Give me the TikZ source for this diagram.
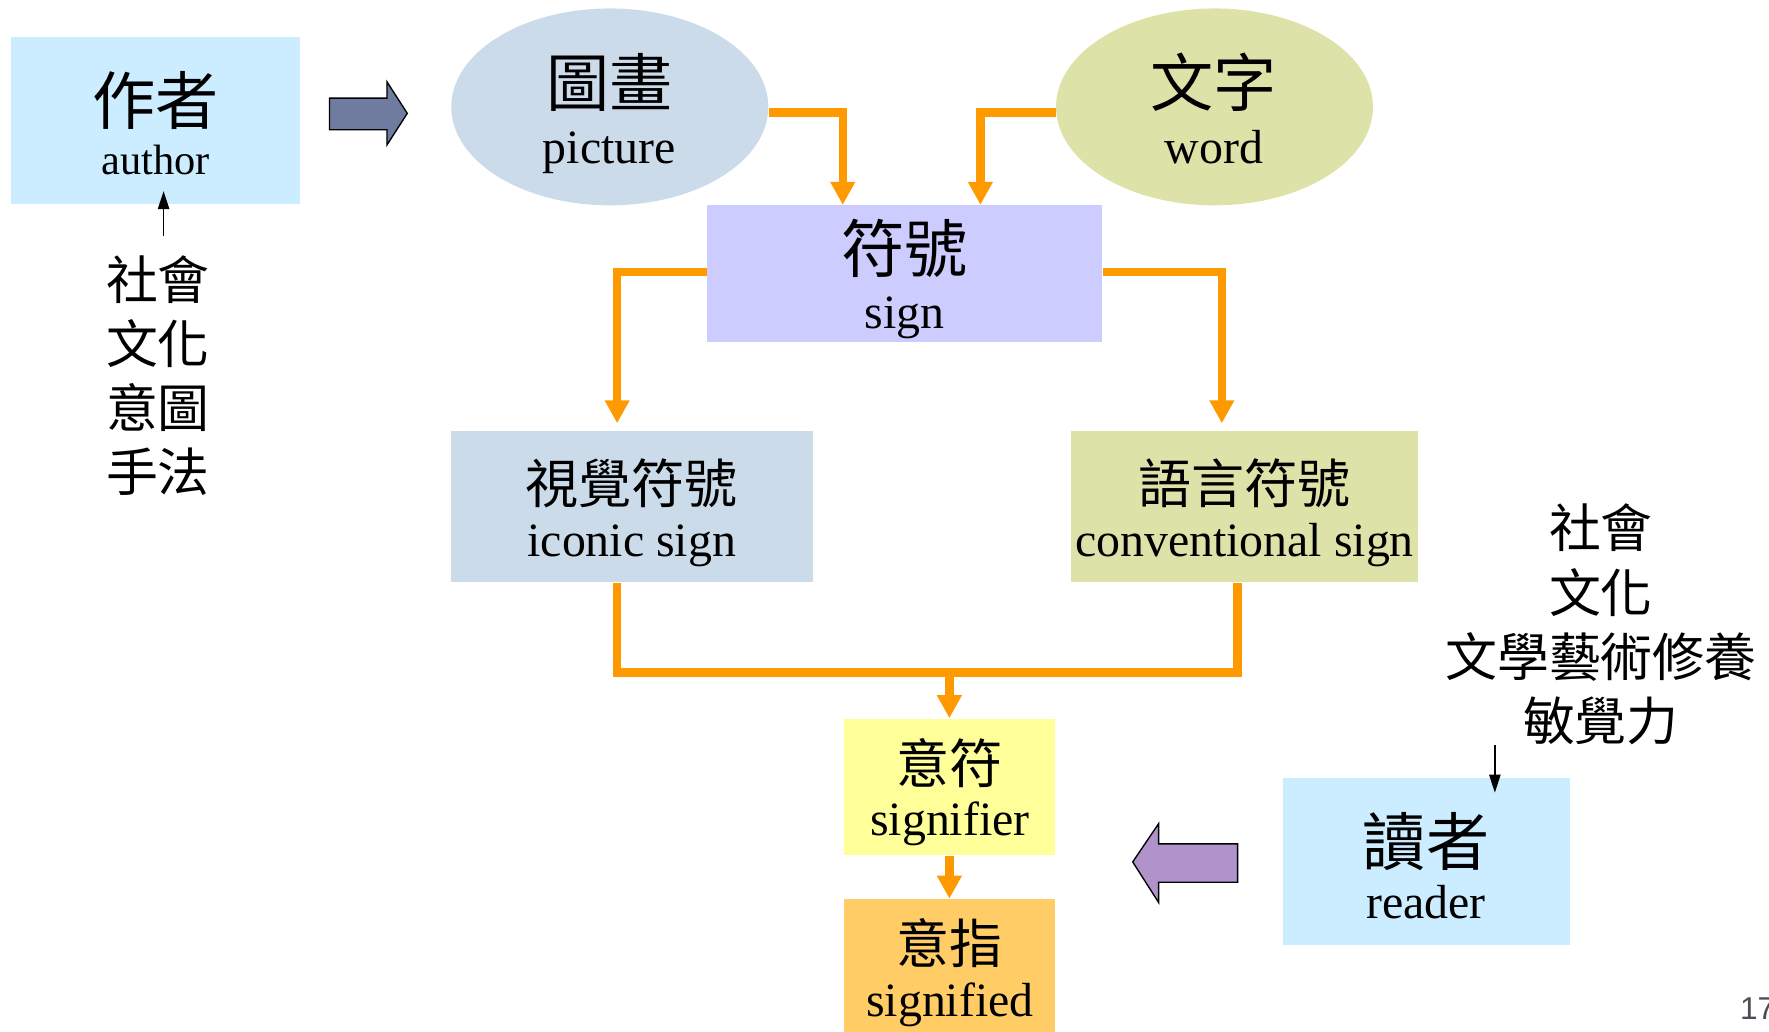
\documentclass[tikz,border=0pt]{standalone}
\usepackage{fontspec}
\setmainfont{Liberation Serif}
\newfontfamily\cjk{Noto Sans CJK TC}
\newfontfamily\numfont{Liberation Sans}
\usetikzlibrary{arrows.meta,shapes.geometric}
\definecolor{authc}{HTML}{CCECFF}
\definecolor{picc}{HTML}{CCDBEA}
\definecolor{wordc}{HTML}{DDE3A8}
\definecolor{signc}{HTML}{CCCCFF}
\definecolor{sfrc}{HTML}{FFFF99}
\definecolor{sfdc}{HTML}{FFCC66}
\definecolor{orc}{HTML}{FF9900}
\definecolor{rarc}{HTML}{707BA0}
\definecolor{larc}{HTML}{B093CB}
\definecolor{pgc}{HTML}{4D4D55}
\tikzset{
  box/.style={rectangle, inner sep=0pt, draw=none},
  oval/.style={ellipse, inner sep=0pt, draw=none},
  bigcjk/.style={font=\cjk\fontsize{28}{30}\selectfont, inner sep=0pt},
  midcjk/.style={font=\cjk\fontsize{23.5}{26}\selectfont, inner sep=0pt},
  eng/.style={font=\fontsize{21.2}{24}\selectfont, inner sep=0pt, anchor=base},
  smalleng/.style={font=\fontsize{18.8}{22}\selectfont, inner sep=0pt, anchor=base},
  lab/.style={font=\cjk\fontsize{23}{28.5}\selectfont, align=center, inner sep=0pt},
  oline/.style={draw=orc, line width=3.7pt, -{Triangle[width=10.4pt,length=10.2pt]}},
  ojoin/.style={draw=orc, line width=3.7pt},
  karrow/.style={line width=0.75pt, -{Triangle[width=5pt,length=8pt]}},
  blockarrow/.style={draw=black, line width=0.6pt, line join=miter}
}
\begin{document}
\begin{tikzpicture}[x=0.5pt,y=-0.5pt]
\useasboundingbox (0,0) rectangle (1568,914);
% boxes
\node[box, fill=authc, minimum width=128pt, minimum height=74pt] (author) at (138,107) {};
\node[oval, fill=picc, minimum width=140.5pt, minimum height=87.25pt] (picture) at (540.5,94.75) {};
\node[oval, fill=wordc, minimum width=140.5pt, minimum height=87.25pt] (word) at (1076.5,94.75) {};
\node[box, fill=signc, minimum width=175pt, minimum height=60.5pt] (sign) at (802,242.5) {};
\node[box, fill=picc, minimum width=160.5pt, minimum height=67pt] (iconic) at (560.5,449) {};
\node[box, fill=wordc, minimum width=154pt, minimum height=67pt] (conv) at (1103,449) {};
\node[box, fill=sfrc, minimum width=93.5pt, minimum height=60.5pt] (signifier) at (841.5,697.5) {};
\node[box, fill=sfdc, minimum width=93.5pt, minimum height=61.5pt] (signified) at (841.5,858.5) {};
\node[box, fill=authc, minimum width=127.5pt, minimum height=74pt] (reader) at (1264.5,764) {};
% texts
\node[bigcjk] (authorzh) at (138,89) {作者};
\node[smalleng] (authoren) at (138,155) {author};
\node[bigcjk] (picturezh) at (540,73) {圖畫};
\node[eng] (pictureen) at (540,145) {picture};
\node[bigcjk] (wordzh) at (1076,73) {文字};
\node[eng] (worden) at (1076,145) {word};
\node[bigcjk] (signzh) at (802,220) {符號};
\node[eng] (signen) at (802,291.5) {sign};
\node[midcjk] (iconiczh) at (560,428) {視覺符號};
\node[eng] (iconicen) at (560,493) {iconic sign};
\node[midcjk] (convzh) at (1103,428) {語言符號};
\node[eng] (conven) at (1103,493) {conventional sign};
\node[midcjk] (signifierzh) at (842,676) {意符};
\node[eng] (signifieren) at (842,741) {signifier};
\node[midcjk] (signifiedzh) at (842,836) {意指};
\node[eng] (signifieden) at (842,901) {signified};
\node[bigcjk] (readerzh) at (1264,746) {讀者};
\node[eng] (readeren) at (1264,814) {reader};
\node[lab] (authlab) at (140,333) {社會\\文化\\意圖\\手法};
\node[lab] (readlab) at (1419,553.5) {社會\\文化\\文學藝術修養\\敏覺力};
\node[font=\numfont\fontsize{14}{16}\selectfont, text=pgc, anchor=base west, inner sep=0pt] (pagenum) at (1542,904) {17};
% orange connectors
\draw[oline] ([yshift=-2.5pt]picture.east) -| ([xshift=-27.5pt]sign.north);
\draw[oline] ([yshift=-2.5pt]word.west) -| ([xshift=33.5pt]sign.north);
\draw[oline, shorten >=3.2pt] ([yshift=0.75pt]sign.west) -| ([xshift=-6.75pt]iconic.north);
\draw[oline, shorten >=3.2pt] ([yshift=0.75pt]sign.east) -| ([xshift=-10pt]conv.north);
\coordinate (merge) at ([yshift=20.2pt]signifier.north);
\draw[ojoin] ([xshift=-6.75pt]iconic.south) |- (merge) -| ([xshift=-3pt]conv.south);
\draw[oline] (merge) -- (signifier.north);
\draw[oline] (signifier.south) -- (signified.north);
% black arrows
\draw[karrow] ([xshift=2.5pt,yshift=8.5pt]authlab.north) -- ([xshift=3.5pt,yshift=6pt]author.south);
\draw[karrow] ([xshift=-47pt]readlab.south) -- ([xshift=30.25pt,yshift=-6.5pt]reader.north);
% block arrows
\draw[blockarrow, fill=rarc] (292,87) -- (343,87) -- (343,72.5) -- (361,100.5) -- (343,128.5) -- (343,115) -- (292,115) -- cycle;
\draw[blockarrow, fill=larc] (1097,748) -- (1027,748) -- (1027,730) -- (1004,764) -- (1027,800) -- (1027,782) -- (1097,782) -- cycle;
\end{tikzpicture}
\end{document}
